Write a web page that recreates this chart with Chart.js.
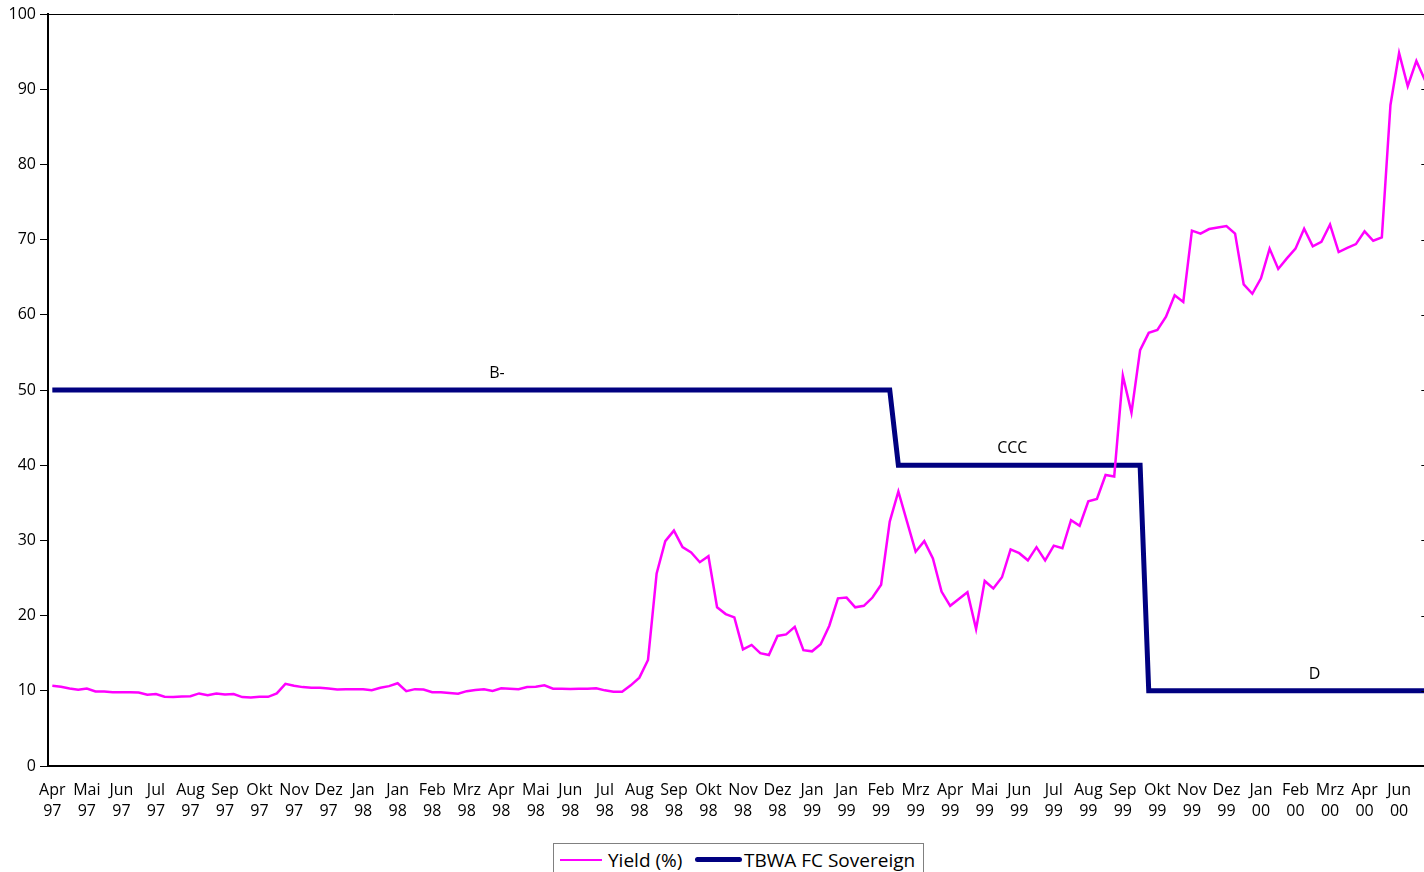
<!DOCTYPE html>
<html>
<head>
<meta charset="utf-8">
<script src="https://cdn.jsdelivr.net/npm/chart.js@4"></script>
<style>
  html, body { margin: 0; padding: 0; background: #fff; overflow: hidden; width: 1424px; height: 872px; }
  #wrap { position: absolute; left: 0; top: 0; width: 1440px; height: 872px; }
  #legend { position: absolute; left: 553px; top: 843px; width: 369px; height: 40px; border: 1px solid #808080; background: #fff;
            font-family: "Open Sans", sans-serif; font-size: 19px; color: #000; }
  #legend .sw { position: absolute; }
  #legend .tx { position: absolute; top: 3px; white-space: nowrap; line-height: 26px; }
</style>
</head>
<body>
<div id="wrap"><canvas id="c" width="1439" height="872"></canvas></div>
<div id="legend">
  <span class="sw" style="left:6px; top:15px; width:42px; height:2px; background:#ff00ff;"></span>
  <span class="tx" style="left:54px;">Yield (%)</span>
  <span class="sw" style="left:141px; top:13px; width:47px; height:5px; border-radius:3px; background:#000080;"></span>
  <span class="tx" style="left:190px;">TBWA FC Sovereign</span>
</div>
<script>
// Month captions, one for every four weekly observations
const monthLabels = [
  'Apr 97','Mai 97','Jun 97','Jul 97','Aug 97','Sep 97','Okt 97','Nov 97','Dez 97','Jan 98',
  'Jan 98','Feb 98','Mrz 98','Apr 98','Mai 98','Jun 98','Jul 98','Aug 98','Sep 98','Okt 98',
  'Nov 98','Dez 98','Jan 99','Jan 99','Feb 99','Mrz 99','Apr 99','Mai 99','Jun 99','Jul 99',
  'Aug 99','Sep 99','Okt 99','Nov 99','Dez 99','Jan 00','Feb 00','Mrz 00','Apr 00','Jun 00'
];
const weeksPerLabel = 4;

// Weekly yield in percent
const yieldPct = [
  10.66, 10.53, 10.30, 10.13, 10.30, 9.90, 9.90, 9.82, 9.82, 9.82,
  9.78, 9.47, 9.56, 9.20, 9.16, 9.25, 9.29, 9.65, 9.42, 9.65,
  9.51, 9.56, 9.16, 9.11, 9.20, 9.20, 9.65, 10.93, 10.66, 10.49,
  10.40, 10.40, 10.30, 10.18, 10.22, 10.22, 10.22, 10.09, 10.40, 10.62,
  11.00, 9.96, 10.22, 10.18, 9.80, 9.80, 9.70, 9.60, 9.95, 10.10,
  10.20, 9.97, 10.33, 10.28, 10.20, 10.50, 10.55, 10.73, 10.28, 10.28,
  10.24, 10.28, 10.28, 10.33, 10.06, 9.88, 9.88, 10.73, 11.75, 14.10,
  25.60, 29.90, 31.30, 29.10, 28.40, 27.10, 27.90, 21.10, 20.20, 19.77,
  15.50, 16.10, 15.00, 14.76, 17.30, 17.50, 18.50, 15.40, 15.25, 16.20,
  18.66, 22.30, 22.40, 21.10, 21.30, 22.40, 24.10, 32.50, 36.50, 32.50,
  28.50, 29.90, 27.60, 23.20, 21.30, 22.20, 23.10, 18.20, 24.60, 23.60,
  25.10, 28.80, 28.30, 27.35, 29.10, 27.35, 29.30, 28.95, 32.70, 31.95,
  35.20, 35.50, 38.70, 38.50, 51.90, 47.00, 55.30, 57.60, 58.00, 59.75,
  62.60, 61.70, 71.20, 70.80, 71.40, 71.60, 71.80, 70.80, 64.05, 62.80,
  64.85, 68.80, 66.10, 67.50, 68.80, 71.45, 69.10, 69.70, 72.00, 68.35,
  68.90, 69.40, 71.10, 69.85, 70.30, 87.90, 94.80, 90.40, 93.75, 91.20
];

// Sovereign rating history: level on the chart, caption, first week it applies, week the caption sits over
const ratingNames  = ['B-', 'CCC', 'D'];
const ratingLevels = [50, 40, 10];
const ratingStart  = [0, 98, 127];
const ratingLabelAt = [51.5, 111.2, 146.2];

const weekLabels = yieldPct.map((_, i) => monthLabels[Math.floor(i / weeksPerLabel)]);
const ratingSeries = yieldPct.map((_, i) => {
  let k = 0;
  for (let r = 0; r < ratingStart.length; r++) if (i >= ratingStart[r]) k = r;
  return ratingLevels[k];
});

const FONT = '"Open Sans", sans-serif';

// Thin top border of the plot area plus inward tick marks on its right edge
const frame = {
  id: 'frame',
  afterDraw(chart) {
    const { ctx, chartArea: a, scales: { y } } = chart;
    ctx.save();
    ctx.strokeStyle = '#000';
    ctx.lineWidth = 1;
    ctx.beginPath();
    ctx.moveTo(a.left, a.top + 0.5);
    ctx.lineTo(a.right, a.top + 0.5);
    ctx.moveTo(a.right - 0.5, a.top);
    ctx.lineTo(a.right - 0.5, a.bottom);
    y.ticks.forEach(t => {
      const py = Math.round(y.getPixelForValue(t.value)) + 0.5;
      ctx.moveTo(a.right - 8, py);
      ctx.lineTo(a.right, py);
    });
    ctx.stroke();
    ctx.restore();
  }
};

// Rating captions above the rating line
const ratingCaptions = {
  id: 'ratingCaptions',
  afterDatasetsDraw(chart) {
    const { ctx, scales: { x, y } } = chart;
    ctx.save();
    ctx.fillStyle = '#000';
    ctx.font = '16px ' + FONT;
    ctx.textAlign = 'center';
    ctx.textBaseline = 'middle';
    ratingNames.forEach((name, r) => {
      const px = x.getPixelForValue(ratingLabelAt[r]);
      const py = y.getPixelForValue(ratingLevels[r]) - 16.5;
      ctx.fillText(name, px, py);
    });
    ctx.restore();
  }
};

new Chart(document.getElementById('c'), {
  type: 'line',
  data: {
    labels: weekLabels,
    datasets: [
      { label: 'Yield (%)', data: yieldPct, borderColor: '#ff00ff', borderWidth: 2.5, pointRadius: 0, tension: 0 },
      { label: 'TBWA FC Sovereign', data: ratingSeries, borderColor: '#000080', borderWidth: 5, pointRadius: 0, tension: 0 }
    ]
  },
  options: {
    responsive: false,
    animation: false,
    devicePixelRatio: 1,
    layout: { padding: { top: 14, right: 0, bottom: 0, left: 0 } },
    plugins: { legend: { display: false }, tooltip: { enabled: false } },
    scales: {
      x: {
        offset: true,
        grid: { display: true, drawOnChartArea: false, drawTicks: false, color: 'rgba(0,0,0,0)' },
        border: { display: true, color: '#000', width: 2 },
        ticks: {
          autoSkip: false, maxRotation: 0, minRotation: 0, padding: 14, color: '#000',
          font: { family: FONT, size: 16, lineHeight: 1.3 },
          callback: (v, i) => (i % weeksPerLabel === 0 ? weekLabels[i].split(' ') : '')
        },
        afterFit: s => { s.height = 106; }
      },
      y: {
        min: 0, max: 100,
        grid: { drawOnChartArea: false, drawTicks: true, tickLength: 8, color: '#000', lineWidth: 1 },
        border: { display: true, color: '#000', width: 2 },
        ticks: { stepSize: 10, padding: 4, color: '#000', font: { family: FONT, size: 16 } },
        afterFit: s => { s.width = 48; }
      }
    }
  },
  plugins: [frame, ratingCaptions]
});
</script>
</body>
</html>
